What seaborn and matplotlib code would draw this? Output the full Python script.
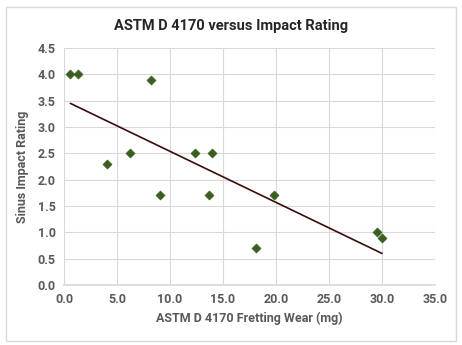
import numpy as np
import pandas as pd
import matplotlib
matplotlib.use("Agg")
import matplotlib.pyplot as plt
import seaborn as sns
from matplotlib.patches import Rectangle

wear = [0.6, 1.3, 8.2, 4.1, 6.2, 9.1, 12.4, 14.0, 13.7, 19.8, 18.1, 29.5, 30.0]
rating = [4.0, 4.0, 3.9, 2.3, 2.5, 1.7, 2.5, 2.5, 1.7, 1.7, 0.7, 1.0, 0.9]
xticks = [0, 5, 10, 15, 20, 25, 30, 35]
yticks = [0.0, 0.5, 1.0, 1.5, 2.0, 2.5, 3.0, 3.5, 4.0, 4.5]

df = pd.DataFrame({"wear": wear, "rating": rating})

sns.set_theme(style="white")
plt.rcParams['font.family'] = ['Roboto', 'DejaVu Sans']
tc = '#595959'

fig = plt.figure(figsize=(4.62, 3.45), dpi=100)
fig.patches.append(Rectangle((0.012, 0.012), 0.976, 0.968, transform=fig.transFigure,
                             fill=False, edgecolor='#d9d9d9', linewidth=1))
ax = fig.add_axes([0.1385, 0.174, 0.803, 0.687])

# trendline
slope, intercept = np.polyfit(df.wear, df.rating, 1)
xs = np.array([min(wear), max(wear)])
ax.plot(xs, slope * xs + intercept, color='#3c0c0c', linewidth=1.2, zorder=2)

sns.scatterplot(data=df, x="wear", y="rating", marker='D', s=22, color='#3b5e20',
                edgecolor='#3b5e20', ax=ax, zorder=3)

ax.set_xlim(0, 35)
ax.set_ylim(0, 4.5)
ax.set_xticks(xticks)
ax.set_xticklabels([f"{v:.1f}" for v in xticks])
ax.set_yticks(yticks)
ax.set_yticklabels([f"{v:.1f}" for v in yticks])
ax.grid(True, color='#d9d9d9', linewidth=0.8)
for s in ax.spines.values():
    s.set_visible(False)
ax.spines['bottom'].set_visible(True)
ax.spines['bottom'].set_color('#d9d9d9')
ax.tick_params(axis='both', length=0, labelsize=9, labelcolor=tc, pad=6)
for lab in ax.get_xticklabels() + ax.get_yticklabels():
    lab.set_fontweight('bold')
ax.set_xlabel("ASTM D 4170 Fretting Wear (mg)", fontsize=9, fontweight='bold', color=tc, labelpad=4)
ax.set_ylabel("Sinus Impact Rating", fontsize=9, fontweight='bold', color=tc, labelpad=6)
fig.text(0.5, 0.925, "ASTM D 4170 versus Impact Rating", ha='center', va='center',
         fontsize=10.5, fontweight='bold', color='#262626')

fig.savefig("out.png", dpi=100)
